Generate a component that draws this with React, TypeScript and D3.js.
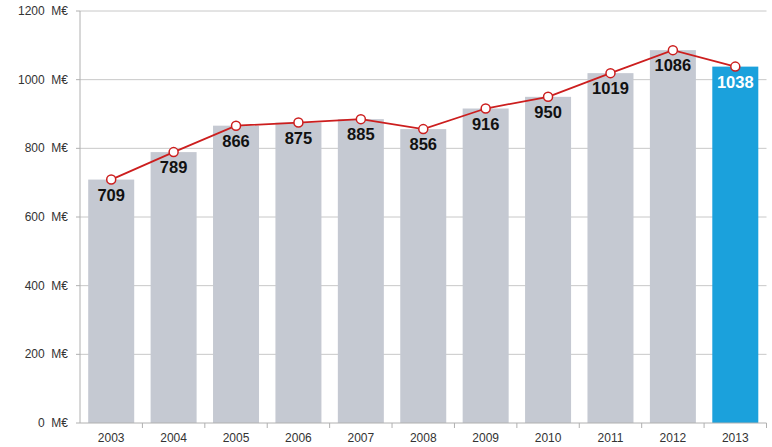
import React from "react";
import * as d3 from "d3";

const years = ["2003","2004","2005","2006","2007","2008","2009","2010","2011","2012","2013"];
const values = [709, 789, 866, 875, 885, 856, 916, 950, 1019, 1086, 1038];
const yTicks = [0, 200, 400, 600, 800, 1000, 1200];

export default function App() {
  const W = 772, H = 447;
  const left = 80, right = 766.5, top = 11, bottom = 423;
  const xb = d3.scaleBand<string>().domain(years).range([left, right]);
  const y = d3.scaleLinear().domain([0, 1200]).range([bottom, top]);
  const pts = years.map((yr, i) => [xb(yr)! + xb.bandwidth() / 2, y(values[i])] as [number, number]);
  const line = d3.line()(pts) || "";
  const font = "'Liberation Sans', Arial, sans-serif";
  return (
    <svg width={W} height={H} style={{ position: "absolute", left: 0, top: 0 }} fontFamily={font}>
      <rect width={W} height={H} fill="#fff" />
      {yTicks.map(t => (
        <g key={t}>
          {t > 0 && <line x1={left} x2={right} y1={y(t)} y2={y(t)} stroke="#c8c8c8" strokeWidth={1} />}
          <line x1={left - 4} x2={left} y1={y(t)} y2={y(t)} stroke="#b0b0b0" />
          <text x={68} y={y(t) + 4} textAnchor="end" fontSize={12} fill="#333" style={{ whiteSpace: "pre" }}>{`${t}  M€`}</text>
        </g>
      ))}
      {years.map((yr, i) => (
        <rect key={yr} x={xb(yr)! + xb.bandwidth() / 2 - 23} width={46} y={y(values[i])} height={bottom - y(values[i])}
          fill={i === years.length - 1 ? "#1ba1dc" : "#c5c9d2"} />
      ))}
      <line x1={left} x2={left} y1={top} y2={bottom} stroke="#b0b0b0" />
      <line x1={left} x2={right} y1={bottom} y2={bottom} stroke="#b0b0b0" />
      {years.map((yr, i) => (
        <line key={"t" + yr} x1={xb(yr)! + xb.bandwidth()} x2={xb(yr)! + xb.bandwidth()} y1={bottom} y2={bottom + 5} stroke="#b0b0b0" />
      ))}
      {years.map(yr => (
        <text key={"l" + yr} x={xb(yr)! + xb.bandwidth() / 2} y={442} textAnchor="middle" fontSize={12} fill="#333">{yr}</text>
      ))}
      <path d={line} fill="none" stroke="#cc1e1e" strokeWidth={1.8} />
      {pts.map((p, i) => (
        <circle key={"c" + i} cx={p[0]} cy={p[1]} r={4.5} fill="#fff" stroke="#cc1e1e" strokeWidth={1.5} />
      ))}
      {pts.map((p, i) => (
        <text key={"v" + i} x={p[0]} y={p[1] + 21} textAnchor="middle" fontSize={16.5} fontWeight="bold"
          fill={i === years.length - 1 ? "#fff" : "#111"}>{values[i]}</text>
      ))}
    </svg>
  );
}
